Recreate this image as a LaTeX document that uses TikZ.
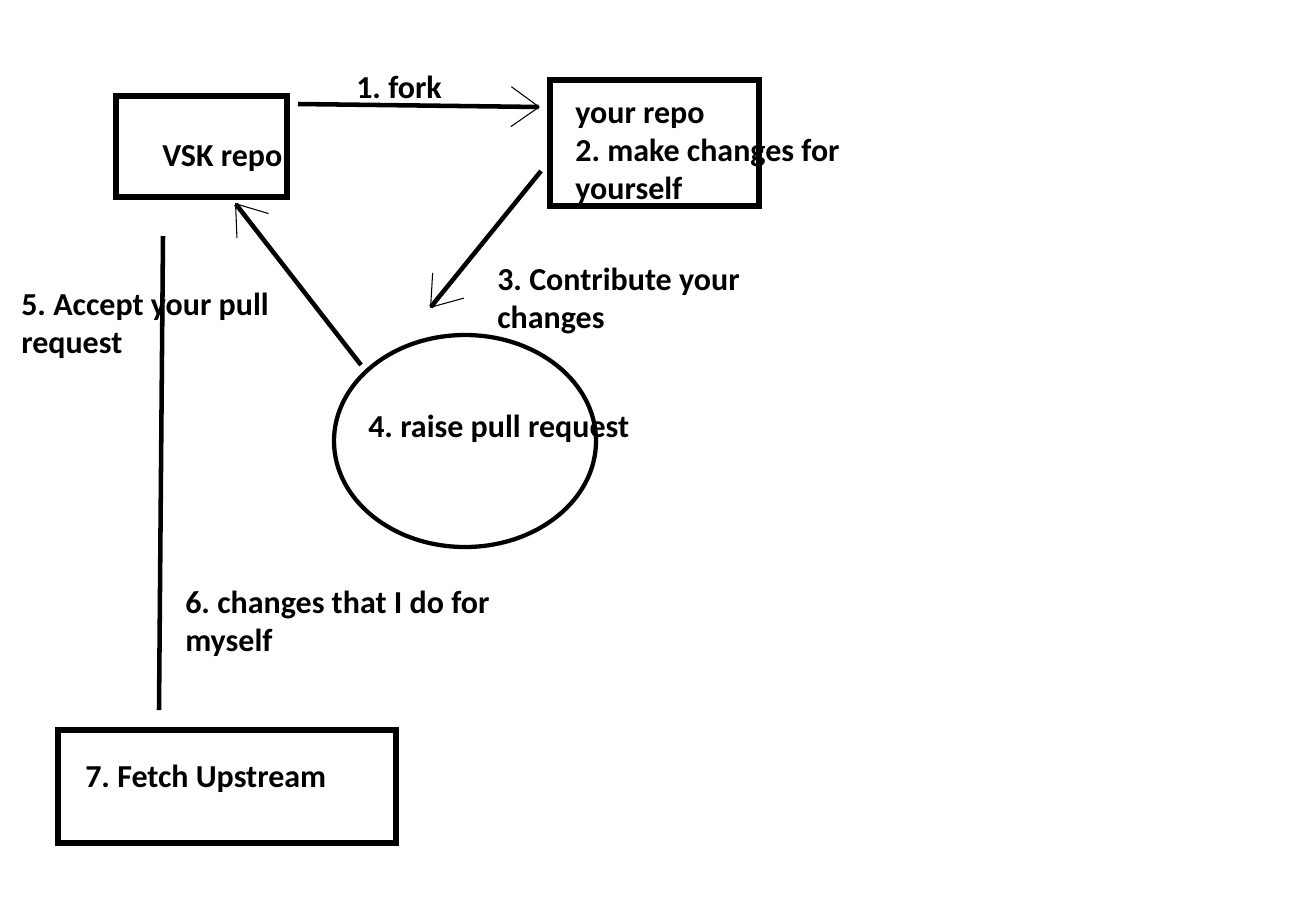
\documentclass[tikz,border=0pt]{standalone}
\usepackage{fontspec}
\setmainfont{Carlito}
\usetikzlibrary{arrows.meta}
\frenchspacing
\begin{document}
\begin{tikzpicture}[x=0.75pt,y=-0.75pt,
  boxline/.style={draw=black,line width=4.5pt},
  shaft/.style={draw=black,line width=3.4pt},
  thintip/.style={-{Straight Barb[line width=0.8pt,length=21pt,width=30pt]}},
  lbl/.style={anchor=base west,inner sep=0pt,align=left,font=\fontsize{24pt}{28.5pt}\bfseries\selectfont}]
\useasboundingbox[fill=white] (0,0) rectangle (1291,904);
% boxes
\draw[boxline] (116,96) rectangle (287,197);
\draw[boxline] (550,80) rectangle (759,206);
\draw[boxline] (58,730) rectangle (396,843);
\draw[black,line width=3.2pt] (465,441) ellipse [x radius=131, y radius=106];
% texts (base anchor = baseline of the last line)
\node[lbl] (vsk) at (162,166) {VSK repo};
\node[lbl] (your) at (575,199) {your repo\\2. make changes for\\yourself};
\node[lbl] (fork) at (356,98) {1. fork};
\node[lbl] (contrib) at (497,328) {3. Contribute your\\changes};
\node[lbl] (raise) at (368,437) {4. raise pull request};
\node[lbl] (accept) at (21,353) {5. Accept your pull\\request};
\node[lbl] (mine) at (185,651) {6. changes that I do for\\myself};
\node[lbl] (fetch) at (85,787) {7. Fetch Upstream};
% connector end points
\coordinate (f1) at (298,104);
\coordinate (f2) at (540,107);
\coordinate (c1) at (541,171);
\coordinate (c2) at (430,308);
\coordinate (p1) at (361,365);
\coordinate (p2) at (235,203);
\coordinate (v1) at (163,236);
\coordinate (v2) at (159,710);
% connectors
\draw[shaft,thintip] (f1) -- (f2);
\draw[shaft,thintip] (c1) -- (c2);
\draw[shaft,thintip] (p1) -- (p2);
\draw[shaft] (v1) -- (161,470) -- (v2);
\end{tikzpicture}
\end{document}
